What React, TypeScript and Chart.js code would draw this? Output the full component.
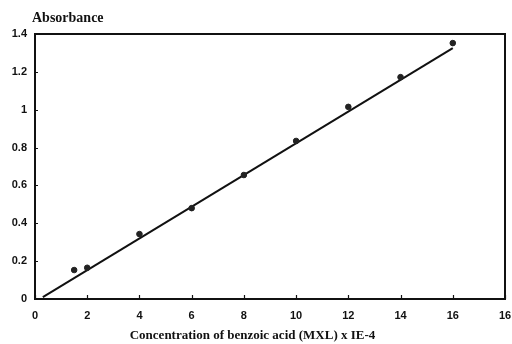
import React, { useEffect, useRef } from "react";
import { Chart, registerables } from "chart.js";

Chart.register(...registerables);

const concentrations = [1.5, 2, 4, 6, 8, 10, 12, 14, 16];
const absorbances = [0.153, 0.165, 0.343, 0.48, 0.655, 0.835, 1.015, 1.172, 1.352];
const fitX = [0.3, 16];
const fitY = [0.01, 1.325];
const xTickLabels = ["0", "2", "4", "6", "8", "10", "12", "14", "16", "16"];
const yTickLabels = ["0", "0.2", "0.4", "0.6", "0.8", "1", "1.2", "1.4"];
const yTitle = "Absorbance";
const xTitle = "Concentration of benzoic acid (MXL) x IE-4";

const framePlugin = {
  id: "frame",
  afterDraw(chart: any) {
    const { ctx, chartArea } = chart;
    const xs = chart.scales.x;
    const ys = chart.scales.y;
    ctx.save();
    ctx.strokeStyle = "#111";
    ctx.lineWidth = 2;
    ctx.strokeRect(chartArea.left, chartArea.top, chartArea.right - chartArea.left, chartArea.bottom - chartArea.top);
    ctx.lineWidth = 1.2;
    ctx.beginPath();
    ys.ticks.forEach((t: any) => {
      const y = Math.round(ys.getPixelForValue(t.value)) + 0.5;
      ctx.moveTo(chartArea.left, y);
      ctx.lineTo(chartArea.left + 3, y);
    });
    xs.ticks.forEach((t: any) => {
      const x = Math.round(xs.getPixelForValue(t.value)) + 0.5;
      ctx.moveTo(x, chartArea.bottom);
      ctx.lineTo(x, chartArea.bottom - 4);
    });
    ctx.stroke();
    ctx.fillStyle = "#111";
    ctx.font = "bold 14px 'Liberation Serif', serif";
    ctx.textAlign = "left";
    ctx.textBaseline = "middle";
    ctx.fillText(yTitle, chartArea.left - 3, chartArea.top - 16);
    ctx.restore();
  },
};

export default function App() {
  const ref = useRef<HTMLCanvasElement>(null);
  useEffect(() => {
    if (!ref.current) return;
    const chart = new Chart(ref.current, {
      type: "scatter",
      data: {
        datasets: [
          {
            label: "measured",
            data: concentrations.map((x, i) => ({ x, y: absorbances[i] })),
            backgroundColor: "#222",
            borderColor: "#222",
            pointRadius: 2.8,
            showLine: false,
          },
          {
            label: "fit",
            data: fitX.map((x, i) => ({ x, y: fitY[i] })),
            borderColor: "#111",
            borderWidth: 2,
            pointRadius: 0,
            showLine: true,
          },
        ],
      },
      options: {
        animation: false,
        responsive: false,
        layout: { padding: { top: 34, right: 7, left: 0, bottom: 0 } },
        plugins: {
          legend: { display: false },
          tooltip: { enabled: false },
          title: {
            display: true,
            position: "bottom",
            text: xTitle,
            color: "#111",
            font: { family: "'Liberation Serif', serif", size: 13, weight: "bold" },
            padding: { top: 0, bottom: 1 },
          },
        },
        scales: {
          x: {
            type: "linear",
            min: 0,
            max: 18,
            border: { display: false },
            grid: { display: false, drawTicks: false },
            ticks: {
              stepSize: 2,
              padding: 10,
              color: "#111",
              font: { family: "'Liberation Sans', sans-serif", size: 11, weight: "bold" },
              callback: (_v: any, i: number) => xTickLabels[i],
            },
            afterFit: (s: any) => {
              s.height = 28.4;
              s.paddingRight = 0;
              s.paddingLeft = 0;
            },
          },
          y: {
            min: 0,
            max: 1.4,
            border: { display: false },
            grid: { display: false, drawTicks: false },
            ticks: {
              stepSize: 0.2,
              padding: 8,
              color: "#111",
              font: { family: "'Liberation Sans', sans-serif", size: 11, weight: "bold" },
              callback: (_v: any, i: number) => yTickLabels[i],
            },
            afterFit: (s: any) => {
              s.width = 35;
              s.paddingTop = 0;
              s.paddingBottom = 0;
            },
          },
        },
      },
      plugins: [framePlugin],
    });
    return () => chart.destroy();
  }, []);
  return (
    <div style={{ position: "absolute", left: 0, top: 0, width: 512, height: 344, background: "#fff" }}>
      <canvas ref={ref} width={512} height={344} />
    </div>
  );
}
